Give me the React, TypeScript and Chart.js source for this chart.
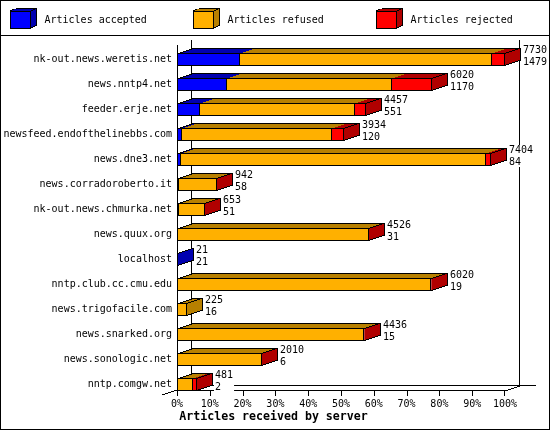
import { useEffect, useRef } from 'react';
import { Chart, registerables } from 'chart.js';

Chart.register(...registerables);

const servers = [
  'nk-out.news.weretis.net',
  'news.nntp4.net',
  'feeder.erje.net',
  'newsfeed.endofthelinebbs.com',
  'news.dne3.net',
  'news.corradoroberto.it',
  'nk-out.news.chmurka.net',
  'news.quux.org',
  'localhost',
  'nntp.club.cc.cmu.edu',
  'news.trigofacile.com',
  'news.snarked.org',
  'news.sonologic.net',
  'nntp.comgw.net',
];

const accepted = [1479, 1170, 551, 120, 84, 58, 51, 31, 21, 19, 16, 15, 6, 2];
const refused = [5949, 3888, 3634, 3531, 7195, 881, 599, 4492, 0, 5971, 209, 4391, 2001, 379];
const rejected = [302, 962, 272, 283, 125, 3, 3, 3, 0, 30, 0, 30, 3, 100];
const totals = [7730, 6020, 4457, 3934, 7404, 942, 653, 4526, 21, 6020, 225, 4436, 2010, 481];

const axisMax = 7730;
const tickLabels = ['0%', '10%', '20%', '30%', '40%', '50%', '60%', '70%', '80%', '90%', '100%'];

const seriesNames = ['Articles accepted', 'Articles refused', 'Articles rejected'];
const frontColors = ['#0000ff', '#ffb000', '#ff0000'];
const darkColors = ['#0000b0', '#b88000', '#b00000'];
const seriesValues = [accepted, refused, rejected];

const FONT = '10px "DejaVu Sans Mono", monospace';
const TITLE_FONT = 'bold 11.6px "DejaVu Sans Mono", monospace';

// one pixel wide/high runs, the picture has no anti-aliased edges
function stairs(ctx: CanvasRenderingContext2D, x: number, y: number, steps: number, dir: number) {
  for (let k = 0; k < steps; k++) {
    ctx.fillRect(dir > 0 ? x + 3 * k : x - 3 * (k + 1), y - dir * k, 3, 1);
  }
}

function drawDepth(ctx: CanvasRenderingContext2D, x0: number, x1: number, top: number, bottom: number, color: string, last: boolean) {
  ctx.fillStyle = color;
  for (let k = 1; k < 5; k++) ctx.fillRect(x0 + 3 * k, top - k, x1 - x0, 1);
  ctx.fillStyle = '#000';
  ctx.fillRect(x0 + 15, top - 5, x1 - x0 + 1, 1);
  if (!last) return;
  for (let i = 0; i <= 15; i++) {
    const k = Math.ceil(i / 3);
    ctx.fillStyle = color;
    ctx.fillRect(x1 + i, top - k, 1, bottom - top);
    ctx.fillStyle = '#000';
    ctx.fillRect(x1 + i, top - k, 1, 1);
    ctx.fillRect(x1 + i, bottom - k, 1, 1);
  }
  ctx.fillRect(x1 + 15, top - 5, 1, bottom - top);
}

const box3d = {
  id: 'box3d',
  afterDatasetsUpdate(chart: any) {
    chart.data.datasets.forEach((_: any, d: number) => {
      chart.getDatasetMeta(d).data.forEach((el: any) => {
        el.x = Math.round(el.x);
        el.base = Math.round(el.base);
      });
    });
  },
  beforeDraw(chart: any) {
    const ctx = chart.ctx;
    ctx.save();
    ctx.fillStyle = '#fff';
    ctx.fillRect(0, 0, 550, 430);
    ctx.restore();
  },
  beforeDatasetsDraw(chart: any) {
    const ctx: CanvasRenderingContext2D = chart.ctx;
    const xs = chart.scales.x;
    ctx.save();
    ctx.fillStyle = '#000';

    // back wall and floor
    ctx.fillRect(191, 40, 1, 346);
    ctx.fillRect(519, 40, 1, 346);
    ctx.fillRect(191, 385, 345, 1);
    ctx.fillRect(177, 390, 328, 1);
    stairs(ctx, 505, 390, 5, 1);
    stairs(ctx, 177, 390, 5, -1);

    servers.forEach((_, row) => {
      const els = [0, 1, 2].map((d) => chart.getDatasetMeta(d).data[row]);
      const y = els[0].y;
      const top = Math.round(y - els[0].height / 2);
      const bottom = top + 12;
      // the side face takes the colour of the last series that has articles
      let lastIdx = 0;
      seriesValues.forEach((vals, d) => {
        if (vals[row] > 0) lastIdx = d;
      });
      els.forEach((el, d) => {
        if (el.x > el.base) drawDepth(ctx, el.base, el.x, top, bottom, darkColors[d], false);
      });
      // left stair of the top face
      ctx.fillStyle = '#000';
      stairs(ctx, els[0].base, top, 5, 1);
      const end = els[lastIdx];
      drawDepth(ctx, end.x, end.x, top, bottom, darkColors[lastIdx], true);
    });

    // value labels sit on a white patch, over the walls
    ctx.font = FONT;
    ctx.textBaseline = 'middle';
    ctx.textAlign = 'left';
    servers.forEach((_, row) => {
      const el = chart.getDatasetMeta(2).data[row];
      const top = Math.round(el.y - el.height / 2);
      const x = Math.round(xs.getPixelForValue(totals[row])) + 18;
      const a = String(totals[row]);
      const b = String(accepted[row]);
      const w = Math.max(ctx.measureText(a).width, ctx.measureText(b).width);
      ctx.fillStyle = '#fff';
      ctx.fillRect(x - 1, top - 8, w + 2, 22);
      ctx.fillStyle = '#000';
      ctx.fillText(a, x, top - 2.5);
      ctx.fillText(b, x, top + 9);
    });
    ctx.restore();
  },
  afterDatasetsDraw(chart: any) {
    const ctx: CanvasRenderingContext2D = chart.ctx;
    const xs = chart.scales.x;
    ctx.save();
    ctx.fillStyle = '#000';
    ctx.fillRect(177, 45, 1, 346);
    xs.ticks.forEach((t: any) => {
      ctx.fillRect(Math.min(Math.round(xs.getPixelForValue(t.value)), 504), 390, 1, 6);
    });
    ctx.restore();
  },
  afterDraw(chart: any) {
    const ctx: CanvasRenderingContext2D = chart.ctx;
    ctx.save();
    ctx.fillStyle = '#000';
    // frame and legend rule
    ctx.fillRect(0, 0, 550, 1);
    ctx.fillRect(0, 429, 550, 1);
    ctx.fillRect(0, 0, 1, 430);
    ctx.fillRect(549, 0, 1, 430);
    ctx.fillRect(0, 35, 550, 1);

    seriesNames.forEach((name, i) => {
      const x = 10 + 183 * i;
      ctx.fillStyle = '#000';
      ctx.fillRect(x, 11, 21, 18);
      ctx.fillStyle = frontColors[i];
      ctx.fillRect(x + 1, 12, 19, 16);
      for (let k = 1; k <= 2; k++) {
        ctx.fillStyle = darkColors[i];
        ctx.fillRect(x + 2 * k, 11 - k, 21, 1);
      }
      for (let c = 0; c <= 6; c++) {
        const k = Math.ceil(c / 2);
        ctx.fillStyle = darkColors[i];
        ctx.fillRect(x + 20 + c, 11 - k, 1, 18);
        ctx.fillStyle = '#000';
        ctx.fillRect(x + 20 + c, 11 - k, 1, 1);
        ctx.fillRect(x + 20 + c, 28 - k, 1, 1);
      }
      ctx.fillStyle = '#000';
      ctx.fillRect(x, 11, 21, 1);
      ctx.fillRect(x + 20, 11, 1, 18);
      ctx.fillRect(x + 6, 8, 21, 1);
      ctx.fillRect(x + 26, 8, 1, 18);
      for (let k = 1; k <= 2; k++) ctx.fillRect(x + 2 * (k - 1), 11 - k, 2, 1);
      ctx.font = FONT;
      ctx.textAlign = 'left';
      ctx.textBaseline = 'middle';
      ctx.fillText(name, x + 34.5, 20);
    });

    ctx.font = TITLE_FONT;
    ctx.textAlign = 'center';
    ctx.textBaseline = 'middle';
    ctx.fillText('Articles received by server', 273.5, 417);
    ctx.restore();
  },
};

export default function App() {
  const chartRef = useRef<HTMLCanvasElement>(null);

  useEffect(() => {
    document.body.style.margin = '0';
    if (!chartRef.current) return;
    const chart = new Chart(chartRef.current, {
      type: 'bar',
      data: {
        labels: servers,
        datasets: seriesNames.map((name, i) => ({
          label: name,
          data: seriesValues[i],
          backgroundColor: frontColors[i],
          borderColor: '#000',
          borderWidth: 1,
          borderSkipped: 'left',
          inflateAmount: 0,
          barThickness: 13,
        })),
      },
      options: {
        indexAxis: 'y',
        responsive: false,
        devicePixelRatio: 1,
        animation: false,
        layout: { padding: { top: 47, right: 45, left: 0, bottom: 0 } },
        plugins: { legend: { display: false }, tooltip: { enabled: false } },
        scales: {
          x: {
            stacked: true,
            min: 0,
            max: axisMax,
            grid: { display: false, drawTicks: false },
            border: { display: false },
            afterFit: (s: any) => {
              s.height = 33;
            },
            ticks: {
              stepSize: axisMax / 10,
              autoSkip: false,
              maxRotation: 0,
              padding: 1,
              color: '#000',
              font: { family: '"DejaVu Sans Mono", monospace', size: 10 },
              callback: (_v: any, i: number) => tickLabels[i],
            },
          },
          y: {
            stacked: true,
            grid: { display: false, drawTicks: false },
            border: { display: false },
            afterFit: (s: any) => {
              s.width = 177;
            },
            ticks: {
              autoSkip: false,
              padding: 5,
              color: '#000',
              font: { family: '"DejaVu Sans Mono", monospace', size: 10 },
            },
          },
        },
      },
      plugins: [box3d],
    } as any);
    return () => chart.destroy();
  }, []);

  return <canvas ref={chartRef} width={550} height={430} style={{ display: 'block' }} />;
}
